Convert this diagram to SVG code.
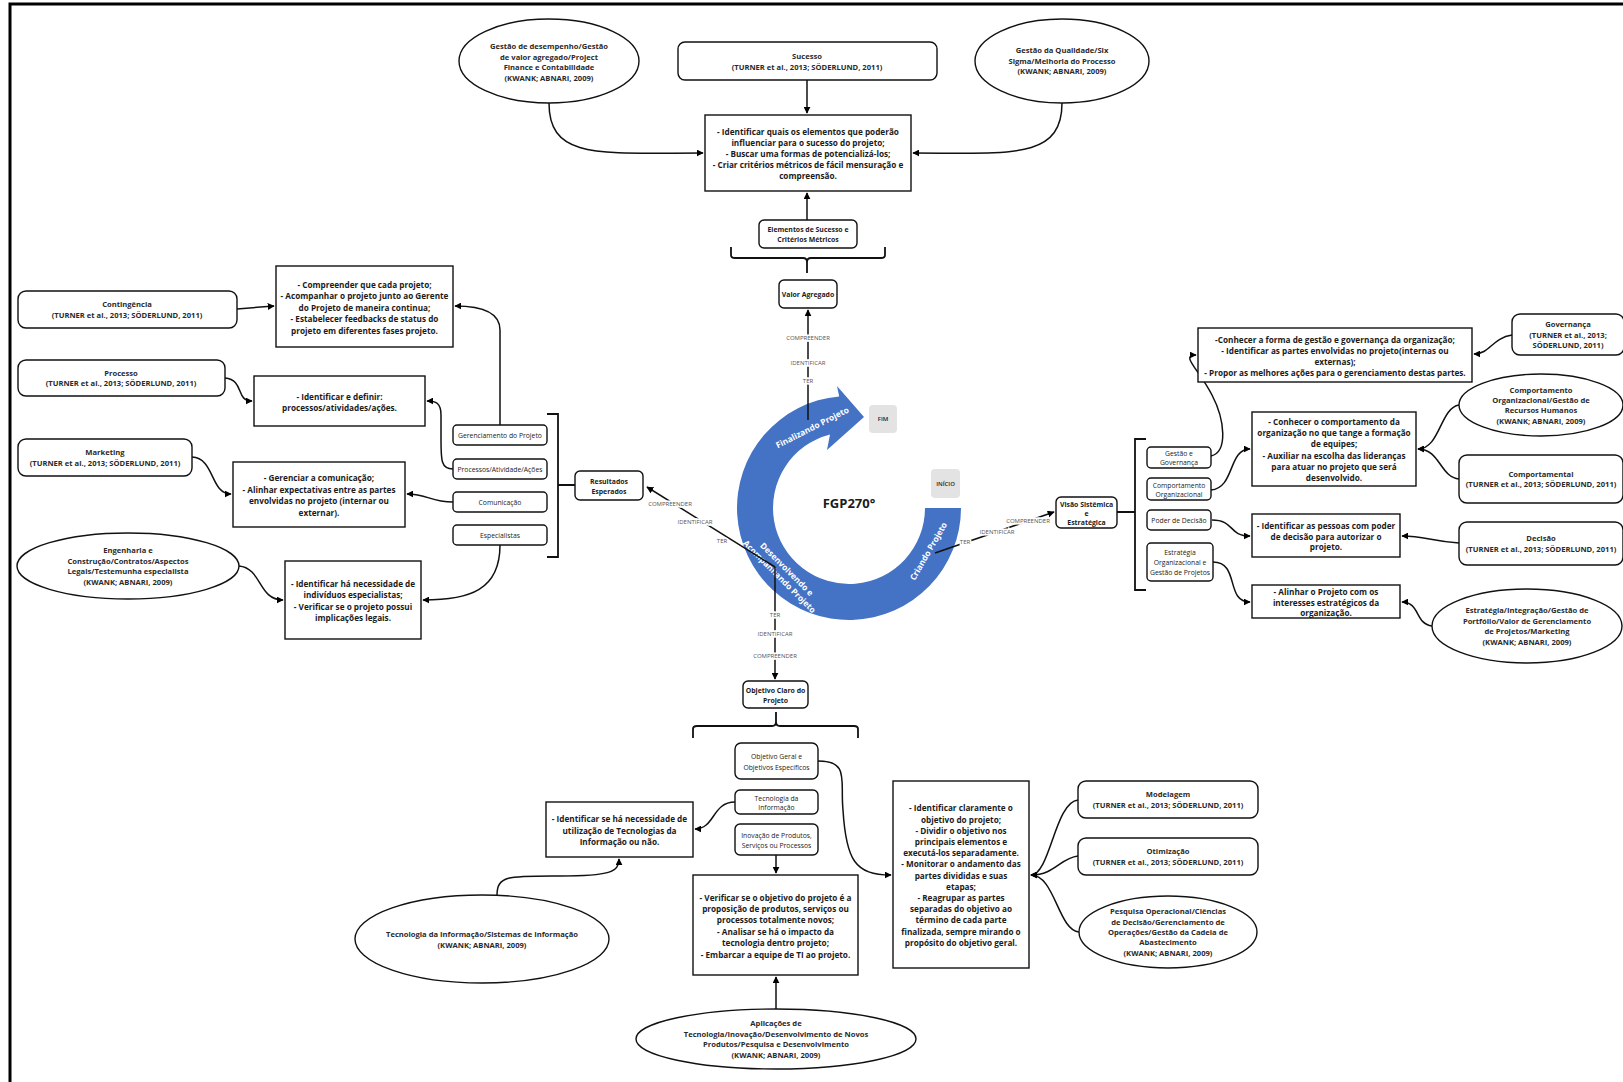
<svg xmlns="http://www.w3.org/2000/svg" width="1623" height="1082" viewBox="0 0 1623 1082">
  <defs>
    <marker id="arr" viewBox="0 0 10 10" refX="9" refY="5" markerWidth="7" markerHeight="7" markerUnits="userSpaceOnUse" orient="auto">
      <path d="M0,0 L10,5 L0,10 Z" fill="#000"/>
    </marker>
    <style>
      .box{fill:#fff;stroke:#111;stroke-width:1.4}
      .ell{fill:#fff;stroke:#111;stroke-width:1.4}
      .tag{fill:#e3e3e3}
      .t{font-family:"Open Sans","Noto Sans","Liberation Sans",sans-serif;text-anchor:middle;dominant-baseline:central;fill:#1b1b1b}
      .b{font-size:8.2px;font-weight:700}
      .r{font-size:7.6px;font-weight:700;fill:#2a2a2a}
      .s{font-size:6.8px;font-weight:400}
      .sb{font-size:6.9px;font-weight:700}
      .lbl{font-family:"Open Sans","Noto Sans","Liberation Sans",sans-serif;font-size:6px;fill:#555;text-anchor:middle;dominant-baseline:central;paint-order:stroke;stroke:#fff;stroke-width:3px}
      .con{fill:none;stroke:#111;stroke-width:1.5}
      .brace{fill:none;stroke:#111;stroke-width:1.8}
      .ring{fill:#4472C4}
      .rt{font-family:"Open Sans","Noto Sans","Liberation Sans",sans-serif;font-size:8.4px;font-weight:700;fill:#fff;text-anchor:middle;dominant-baseline:central}
    </style>
  </defs>

  <rect width="1623" height="1082" fill="#fff"/>
  <path d="M10,1082 V4 H1623" fill="none" stroke="#000" stroke-width="3"/>

  <!-- central cycle -->
  <g id="ciclo">
    <path class="ring" d="M961,508 A112,112 0 1 1 839.2,396.4 L837,386 L864,417 L827,450 L830,434.4 A76,76 0 1 0 925,508 Z"/>
    <text class="rt" transform="translate(812,427) rotate(-27)">Finalizando Projeto</text>
    <text class="rt" transform="translate(784,572) rotate(45)"><tspan x="0" y="-5">Desenvolvendo e</tspan><tspan x="0" y="5.5">Acompanhando Projeto</tspan></text>
    <text class="rt" transform="translate(928,551) rotate(-60)">Criando Projeto</text>
    <text class="t" x="849" y="503" style="font-size:13px;font-weight:700">FGP270°</text>
    <rect class="tag" x="869" y="405" width="28" height="28" rx="4"/>
    <text class="t" x="883" y="419" style="font-size:6px;font-weight:600">FIM</text>
    <rect class="tag" x="931" y="469" width="29" height="29" rx="4"/>
    <text class="t" x="945.5" y="483.5" style="font-size:6px;font-weight:600">INÍCIO</text>
  </g>

  <!-- connectors -->
  <g id="conectores">
    <path class="con" d="M549,103 C549,160 600,153 703,153" marker-end="url(#arr)"/>
    <path class="con" d="M1062,103 C1062,160 1010,153 913,153" marker-end="url(#arr)"/>
    <path class="con" d="M807,80 V113" marker-end="url(#arr)"/>
    <path class="con" d="M807,220 V193" marker-end="url(#arr)"/>
    <path class="brace" d="M731,247 V255 Q731,258 735,258 H803 Q807,258 807,262 V273 M807,262 Q807,258 811,258 H881 Q885,258 885,255 V247"/>

    <path class="con" d="M808,420 V310" marker-end="url(#arr)"/>
    <path class="con" d="M775,567 L647,487" marker-end="url(#arr)"/>
    <path class="con" d="M775,567 V679" marker-end="url(#arr)"/>
    <path class="con" d="M935,553 L1054,512" marker-end="url(#arr)"/>

    <path class="con" d="M237,309 L274,306" marker-end="url(#arr)"/>
    <path class="con" d="M225,378 C245,380 235,401 252,401" marker-end="url(#arr)"/>
    <path class="con" d="M192,457 C215,458 210,494 231,494" marker-end="url(#arr)"/>
    <path class="con" d="M239,566 C262,568 258,600 283,600" marker-end="url(#arr)"/>
    <path class="con" d="M500,425 V330 C500,312 482,306 455,306" marker-end="url(#arr)"/>
    <path class="con" d="M453,469 C441,469 441,460 441,440 V415 C441,403 436,401 427,401" marker-end="url(#arr)"/>
    <path class="con" d="M453,502 C430,502 428,494 407,494" marker-end="url(#arr)"/>
    <path class="con" d="M500,545 C500,590 470,600 423,600" marker-end="url(#arr)"/>
    <path class="brace" d="M547,414 H558 V557 H547 M558,485 H575"/>

    <path class="brace" d="M1146,439 H1135 V590 H1146 M1135,512 H1117"/>
    <path class="con" d="M1211,456 C1228,452 1225,420 1212,395 C1198,368 1180,355 1196,355" marker-end="url(#arr)"/>
    <path class="con" d="M1211,490 C1235,488 1228,449 1250,449" marker-end="url(#arr)"/>
    <path class="con" d="M1459,405 C1440,408 1440,449 1418,449" marker-end="url(#arr)"/>
    <path class="con" d="M1459,479 C1440,477 1440,449 1418,449" marker-end="url(#arr)"/>
    <path class="con" d="M1512,335 C1492,338 1490,354 1474,354" marker-end="url(#arr)"/>
    <path class="con" d="M1212,520 C1235,520 1228,536 1250,536" marker-end="url(#arr)"/>
    <path class="con" d="M1459,543 C1430,541 1425,536 1402,536" marker-end="url(#arr)"/>
    <path class="con" d="M1213,562 C1240,562 1225,602 1250,602" marker-end="url(#arr)"/>
    <path class="con" d="M1432,626 C1415,624 1420,602 1402,602" marker-end="url(#arr)"/>

    <path class="brace" d="M693,738 V729 Q693,726 697,726 H772 Q776,726 776,722 V712 M776,722 Q776,726 780,726 H854 Q858,726 858,729 V738"/>
    <path class="con" d="M818,761 C850,761 840,780 843,810 C846,860 855,875 891,875" marker-end="url(#arr)"/>
    <path class="con" d="M735,802 C712,802 715,829 695,829" marker-end="url(#arr)"/>
    <path class="con" d="M776,855 V873" marker-end="url(#arr)"/>
    <path class="con" d="M497,895 C497,875 510,876 560,876 C610,876 619,872 619,859" marker-end="url(#arr)"/>
    <path class="con" d="M776,1009 V977" marker-end="url(#arr)"/>
    <path class="con" d="M1078,800 C1055,802 1050,875 1031,875" marker-end="url(#arr)"/>
    <path class="con" d="M1078,856 C1060,858 1055,875 1031,875" marker-end="url(#arr)"/>
    <path class="con" d="M1079,932 C1058,930 1055,875 1031,875" marker-end="url(#arr)"/>

    <text class="lbl" x="808" y="338">COMPREENDER</text>
    <text class="lbl" x="808" y="363">IDENTIFICAR</text>
    <text class="lbl" x="808" y="381">TER</text>
    <text class="lbl" x="670" y="504">COMPREENDER</text>
    <text class="lbl" x="695" y="522">IDENTIFICAR</text>
    <text class="lbl" x="722" y="541">TER</text>
    <text class="lbl" x="775" y="615">TER</text>
    <text class="lbl" x="775" y="634">IDENTIFICAR</text>
    <text class="lbl" x="775" y="656">COMPREENDER</text>
    <text class="lbl" x="965" y="542">TER</text>
    <text class="lbl" x="997" y="532">IDENTIFICAR</text>
    <text class="lbl" x="1028" y="521">COMPREENDER</text>
  </g>

  <!-- top -->
  <g id="n-desempenho">
    <ellipse class="ell" cx="549" cy="61" rx="90" ry="42"/>
    <text class="t r"><tspan x="549" y="46">Gestão de desempenho/Gestão</tspan><tspan x="549" y="56.5">de valor agregado/Project</tspan><tspan x="549" y="67">Finance e Contabilidade</tspan><tspan x="549" y="77.5">(KWANK; ABNARI, 2009)</tspan></text>
  </g>
  <g id="n-sucesso">
    <rect class="box" x="678" y="42" width="259" height="38" rx="7"/>
    <text class="t r"><tspan x="807" y="55.5">Sucesso</tspan><tspan x="807" y="66.5">(TURNER et al., 2013; SÖDERLUND, 2011)</tspan></text>
  </g>
  <g id="n-qualidade">
    <ellipse class="ell" cx="1062" cy="61" rx="87" ry="42"/>
    <text class="t r"><tspan x="1062" y="50">Gestão da Qualidade/Six</tspan><tspan x="1062" y="60.5">Sigma/Melhoria do Processo</tspan><tspan x="1062" y="71">(KWANK; ABNARI, 2009)</tspan></text>
  </g>
  <g id="n-sucesso-acoes">
    <rect class="box" x="705" y="115" width="206" height="76"/>
    <text class="t b"><tspan x="808" y="131">- Identificar quais os elementos que poderão</tspan><tspan x="808" y="142">influenciar para o sucesso do projeto;</tspan><tspan x="808" y="153">- Buscar uma formas de potencializá-los;</tspan><tspan x="808" y="164">- Criar critérios métricos de fácil mensuração e</tspan><tspan x="808" y="175">compreensão.</tspan></text>
  </g>
  <g id="n-elementos">
    <rect class="box" x="759" y="220" width="98" height="28" rx="5"/>
    <text class="t sb"><tspan x="808" y="229">Elementos de Sucesso e</tspan><tspan x="808" y="239">Critérios Métricos</tspan></text>
  </g>
  <g id="n-valor">
    <rect class="box" x="779" y="280" width="58" height="28" rx="5"/>
    <text class="t sb" x="808" y="294">Valor Agregado</text>
  </g>

  <!-- left -->
  <g id="n-contingencia">
    <rect class="box" x="18" y="291" width="219" height="37" rx="8"/>
    <text class="t r"><tspan x="127" y="304">Contingência</tspan><tspan x="127" y="314.5">(TURNER et al., 2013; SÖDERLUND, 2011)</tspan></text>
  </g>
  <g id="n-contingencia-acoes">
    <rect class="box" x="276" y="266" width="177" height="81"/>
    <text class="t b"><tspan x="364.5" y="283.5">- Compreender que cada projeto;</tspan><tspan x="364.5" y="295">- Acompanhar o projeto junto ao Gerente</tspan><tspan x="364.5" y="306.5">do Projeto de maneira continua;</tspan><tspan x="364.5" y="318">- Estabelecer feedbacks de status do</tspan><tspan x="364.5" y="329.5">projeto em diferentes fases projeto.</tspan></text>
  </g>
  <g id="n-processo">
    <rect class="box" x="18" y="360" width="207" height="36" rx="8"/>
    <text class="t r"><tspan x="121" y="372.5">Processo</tspan><tspan x="121" y="383">(TURNER et al., 2013; SÖDERLUND, 2011)</tspan></text>
  </g>
  <g id="n-processo-acoes">
    <rect class="box" x="254" y="376" width="171" height="50"/>
    <text class="t b"><tspan x="339.5" y="395.5">- Identificar e definir:</tspan><tspan x="339.5" y="407">processos/atividades/ações.</tspan></text>
  </g>
  <g id="n-marketing">
    <rect class="box" x="18" y="439" width="174" height="37" rx="8"/>
    <text class="t r"><tspan x="105" y="452">Marketing</tspan><tspan x="105" y="462.5">(TURNER et al., 2013; SÖDERLUND, 2011)</tspan></text>
  </g>
  <g id="n-comunicacao-acoes">
    <rect class="box" x="233" y="462" width="172" height="65"/>
    <text class="t b"><tspan x="319" y="477.3">- Gerenciar a comunicação;</tspan><tspan x="319" y="488.8">- Alinhar expectativas entre as partes</tspan><tspan x="319" y="500.3">envolvidas no projeto (internar ou</tspan><tspan x="319" y="511.8">externar).</tspan></text>
  </g>
  <g id="n-engenharia">
    <ellipse class="ell" cx="128" cy="566" rx="111" ry="33"/>
    <text class="t r"><tspan x="128" y="550.3">Engenharia e</tspan><tspan x="128" y="560.8">Construção/Contratos/Aspectos</tspan><tspan x="128" y="571.3">Legais/Testemunha especialista</tspan><tspan x="128" y="581.8">(KWANK; ABNARI, 2009)</tspan></text>
  </g>
  <g id="n-especialistas-acoes">
    <rect class="box" x="285" y="561" width="136" height="78"/>
    <text class="t b"><tspan x="353" y="583">- Identificar há necessidade de</tspan><tspan x="353" y="594.3">indivíduos especialistas;</tspan><tspan x="353" y="605.7">- Verificar se o projeto possui</tspan><tspan x="353" y="617">implicações legais.</tspan></text>
  </g>
  <g id="n-gerenciamento">
    <rect class="box" x="453" y="425" width="94" height="20" rx="4"/>
    <text class="t s" x="500" y="435">Gerenciamento do Projeto</text>
  </g>
  <g id="n-processos">
    <rect class="box" x="453" y="459" width="94" height="20" rx="4"/>
    <text class="t s" x="500" y="469">Processos/Atividade/Ações</text>
  </g>
  <g id="n-comunicacao">
    <rect class="box" x="453" y="492" width="94" height="20" rx="4"/>
    <text class="t s" x="500" y="502">Comunicação</text>
  </g>
  <g id="n-especialistas">
    <rect class="box" x="453" y="525" width="94" height="20" rx="4"/>
    <text class="t s" x="500" y="535">Especialistas</text>
  </g>
  <g id="n-resultados">
    <rect class="box" x="575" y="471" width="68" height="29" rx="5"/>
    <text class="t sb"><tspan x="609" y="480.5">Resultados</tspan><tspan x="609" y="491">Esperados</tspan></text>
  </g>

  <!-- right -->
  <g id="n-visao">
    <rect class="box" x="1056" y="497" width="61" height="31" rx="5"/>
    <text class="t sb"><tspan x="1086.5" y="503.5">Visão Sistêmica</tspan><tspan x="1086.5" y="512.5">e</tspan><tspan x="1086.5" y="521.5">Estratégica</tspan></text>
  </g>
  <g id="n-gestao-gov">
    <rect class="box" x="1147" y="447" width="64" height="21" rx="4"/>
    <text class="t s"><tspan x="1179" y="453">Gestão e</tspan><tspan x="1179" y="462">Governança</tspan></text>
  </g>
  <g id="n-comp-org">
    <rect class="box" x="1147" y="478" width="64" height="22" rx="4"/>
    <text class="t s"><tspan x="1179" y="484.5">Comportamento</tspan><tspan x="1179" y="493.5">Organizacional</tspan></text>
  </g>
  <g id="n-poder">
    <rect class="box" x="1147" y="510" width="64" height="20" rx="4"/>
    <text class="t s" x="1179" y="520">Poder de Decisão</text>
  </g>
  <g id="n-estrategia">
    <rect class="box" x="1147" y="543" width="66" height="38" rx="4"/>
    <text class="t s"><tspan x="1180" y="552">Estratégia</tspan><tspan x="1180" y="562">Organizacional e</tspan><tspan x="1180" y="572">Gestão de Projetos</tspan></text>
  </g>
  <g id="n-governanca-acoes">
    <rect class="box" x="1198" y="328" width="274" height="54"/>
    <text class="t b"><tspan x="1335" y="338.5">-Conhecer a forma de gestão e governança da organização;</tspan><tspan x="1335" y="349.7">- Identificar as partes envolvidas no projeto(internas ou</tspan><tspan x="1335" y="360.9">externas);</tspan><tspan x="1335" y="372.1">- Propor as melhores ações para o gerenciamento destas partes.</tspan></text>
  </g>
  <g id="n-governanca">
    <rect class="box" x="1512" y="314" width="112" height="41" rx="8"/>
    <text class="t r"><tspan x="1568" y="324.2">Governança</tspan><tspan x="1568" y="334.5">(TURNER et al., 2013;</tspan><tspan x="1568" y="344.8">SÖDERLUND, 2011)</tspan></text>
  </g>
  <g id="n-rh">
    <ellipse class="ell" cx="1541" cy="405" rx="82" ry="31"/>
    <text class="t r"><tspan x="1541" y="389.5">Comportamento</tspan><tspan x="1541" y="399.8">Organizacional/Gestão de</tspan><tspan x="1541" y="410.2">Recursos Humanos</tspan><tspan x="1541" y="420.5">(KWANK; ABNARI, 2009)</tspan></text>
  </g>
  <g id="n-comportamento-acoes">
    <rect class="box" x="1252" y="412" width="164" height="74"/>
    <text class="t b"><tspan x="1334" y="420.8">- Conhecer o comportamento da</tspan><tspan x="1334" y="432">organização no que tange a formação</tspan><tspan x="1334" y="443.3">de equipes;</tspan><tspan x="1334" y="454.7">- Auxiliar na escolha das lideranças</tspan><tspan x="1334" y="466">para atuar no projeto que será</tspan><tspan x="1334" y="477.3">desenvolvido.</tspan></text>
  </g>
  <g id="n-comportamental">
    <rect class="box" x="1459" y="455" width="164" height="48" rx="8"/>
    <text class="t r"><tspan x="1541" y="473.5">Comportamental</tspan><tspan x="1541" y="484">(TURNER et al., 2013; SÖDERLUND, 2011)</tspan></text>
  </g>
  <g id="n-decisao-acoes">
    <rect class="box" x="1252" y="514" width="148" height="43"/>
    <text class="t b"><tspan x="1326" y="524.7">- Identificar as pessoas com poder</tspan><tspan x="1326" y="535.5">de decisão para autorizar o</tspan><tspan x="1326" y="546.3">projeto.</tspan></text>
  </g>
  <g id="n-decisao">
    <rect class="box" x="1459" y="522" width="164" height="43" rx="8"/>
    <text class="t r"><tspan x="1541" y="538">Decisão</tspan><tspan x="1541" y="548.5">(TURNER et al., 2013; SÖDERLUND, 2011)</tspan></text>
  </g>
  <g id="n-estrategia-acoes">
    <rect class="box" x="1252" y="585" width="148" height="33"/>
    <text class="t b"><tspan x="1326" y="591">- Alinhar o Projeto com os</tspan><tspan x="1326" y="601.5">interesses estratégicos da</tspan><tspan x="1326" y="612">organização.</tspan></text>
  </g>
  <g id="n-portfolio">
    <ellipse class="ell" cx="1527" cy="626" rx="95" ry="37"/>
    <text class="t r"><tspan x="1527" y="610.3">Estratégia/Integração/Gestão de</tspan><tspan x="1527" y="620.8">Portfólio/Valor de Gerenciamento</tspan><tspan x="1527" y="631.3">de Projetos/Marketing</tspan><tspan x="1527" y="641.8">(KWANK; ABNARI, 2009)</tspan></text>
  </g>

  <!-- bottom -->
  <g id="n-objetivo-claro">
    <rect class="box" x="743" y="681" width="65" height="27" rx="5"/>
    <text class="t sb"><tspan x="775.5" y="689.5">Objetivo Claro do</tspan><tspan x="775.5" y="700">Projeto</tspan></text>
  </g>
  <g id="n-objetivo-geral">
    <rect class="box" x="735" y="743" width="83" height="36" rx="6"/>
    <text class="t s"><tspan x="776.5" y="756">Objetivo Geral e</tspan><tspan x="776.5" y="766.5">Objetivos Específicos</tspan></text>
  </g>
  <g id="n-ti">
    <rect class="box" x="735" y="790" width="83" height="24" rx="5"/>
    <text class="t s"><tspan x="776.5" y="797.5">Tecnologia da</tspan><tspan x="776.5" y="806.5">Informação</tspan></text>
  </g>
  <g id="n-inovacao">
    <rect class="box" x="735" y="824" width="83" height="31" rx="5"/>
    <text class="t s"><tspan x="776.5" y="834.5">Inovação de Produtos,</tspan><tspan x="776.5" y="844.5">Serviços ou Processos</tspan></text>
  </g>
  <g id="n-inovacao-acoes">
    <rect class="box" x="693" y="875" width="165" height="100"/>
    <text class="t b"><tspan x="775.5" y="896.5">- Verificar se o objetivo do projeto é a</tspan><tspan x="775.5" y="907.9">proposição de produtos, serviços ou</tspan><tspan x="775.5" y="919.3">processos totalmente novos;</tspan><tspan x="775.5" y="930.7">- Analisar se há o impacto da</tspan><tspan x="775.5" y="942.1">tecnologia dentro projeto;</tspan><tspan x="775.5" y="953.5">- Embarcar a equipe de TI ao projeto.</tspan></text>
  </g>
  <g id="n-ti-acoes">
    <rect class="box" x="546" y="802" width="147" height="55"/>
    <text class="t b"><tspan x="619.5" y="818.2">- Identificar se há necessidade de</tspan><tspan x="619.5" y="829.5">utilização de Tecnologias da</tspan><tspan x="619.5" y="840.8">Informação ou não.</tspan></text>
  </g>
  <g id="n-sistemas">
    <ellipse class="ell" cx="482" cy="939" rx="127" ry="44"/>
    <text class="t r"><tspan x="482" y="934">Tecnologia da Informação/Sistemas de Informação</tspan><tspan x="482" y="944.5">(KWANK; ABNARI, 2009)</tspan></text>
  </g>
  <g id="n-aplicacoes">
    <ellipse class="ell" cx="776" cy="1039" rx="140" ry="30"/>
    <text class="t r"><tspan x="776" y="1023.3">Aplicações de</tspan><tspan x="776" y="1033.8">Tecnologia/Inovação/Desenvolvimento de Novos</tspan><tspan x="776" y="1044.3">Produtos/Pesquisa e Desenvolvimento</tspan><tspan x="776" y="1054.8">(KWANK; ABNARI, 2009)</tspan></text>
  </g>
  <g id="n-objetivo-acoes">
    <rect class="box" x="893" y="781" width="136" height="187"/>
    <text class="t b"><tspan x="961" y="807.3">- Identificar claramente o</tspan><tspan x="961" y="818.5">objetivo do projeto;</tspan><tspan x="961" y="829.7">- Dividir o objetivo nos</tspan><tspan x="961" y="840.9">principais elementos e</tspan><tspan x="961" y="852.1">executá-los separadamente.</tspan><tspan x="961" y="863.3">- Monitorar o andamento das</tspan><tspan x="961" y="874.5">partes divididas e suas</tspan><tspan x="961" y="885.7">etapas;</tspan><tspan x="961" y="896.9">- Reagrupar as partes</tspan><tspan x="961" y="908.1">separadas do objetivo ao</tspan><tspan x="961" y="919.3">término de cada parte</tspan><tspan x="961" y="930.5">finalizada, sempre mirando o</tspan><tspan x="961" y="941.7">propósito do objetivo geral.</tspan></text>
  </g>
  <g id="n-modelagem">
    <rect class="box" x="1078" y="781" width="180" height="37" rx="8"/>
    <text class="t r"><tspan x="1168" y="794">Modelagem</tspan><tspan x="1168" y="804.5">(TURNER et al., 2013; SÖDERLUND, 2011)</tspan></text>
  </g>
  <g id="n-otimizacao">
    <rect class="box" x="1078" y="838" width="180" height="37" rx="8"/>
    <text class="t r"><tspan x="1168" y="851">Otimização</tspan><tspan x="1168" y="861.5">(TURNER et al., 2013; SÖDERLUND, 2011)</tspan></text>
  </g>
  <g id="n-pesquisa">
    <ellipse class="ell" cx="1168" cy="932" rx="89" ry="36"/>
    <text class="t r"><tspan x="1168" y="911.4">Pesquisa Operacional/Ciências</tspan><tspan x="1168" y="921.7">de Decisão/Gerenciamento de</tspan><tspan x="1168" y="932">Operações/Gestão da Cadeia de</tspan><tspan x="1168" y="942.3">Abastecimento</tspan><tspan x="1168" y="952.6">(KWANK; ABNARI, 2009)</tspan></text>
  </g>
</svg>
